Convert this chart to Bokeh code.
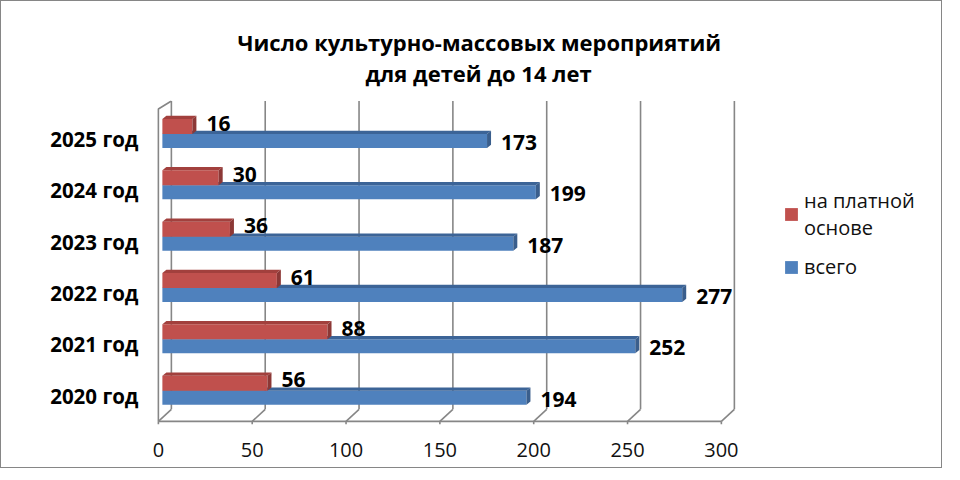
from bokeh.plotting import figure
from bokeh.models import Range1d, FixedTicker, Legend, LegendItem, ColumnDataSource, Title
from bokeh.embed import file_html
from bokeh.resources import INLINE
from bokeh.core.properties import value

# ---- data ----
years = ["2020 год", "2021 год", "2022 год", "2023 год", "2024 год", "2025 год"]
paid = [56, 88, 61, 36, 30, 16]
total = [194, 252, 277, 187, 199, 173]
x_ticks = [0, 50, 100, 150, 200, 250, 300]
series_names = ["на платной\nоснове", "всего"]
title_lines = ["Число культурно-массовых мероприятий", "для детей до 14 лет"]

# ---- layout ----
W, H = 942, 468
KX = 563 / 300.0          # px per unit
FL, FT, FH = 155, 99, 326
FW = W - FL - 8
X0 = -1
X1 = X0 + FW / KX
Y0, Y1 = -0.1, 6.25
kx = FW / (X1 - X0)
ky = FH / (Y1 - Y0)


def px(n):
    return n / kx


def py(n):
    return n / ky


FONT = "Open Sans"
GRID = "#868686"

p = figure(width=W, height=H, output_backend="svg", toolbar_location=None, title=None,
           x_range=Range1d(X0, X1), y_range=Range1d(Y0, Y1),
           min_border_left=FL, min_border_top=FT,
           min_border_right=W - FL - FW, min_border_bottom=H - FT - FH,
           background_fill_color="white", border_fill_color="white",
           styles={"border": "1px solid #868686"})
p.outline_line_color = None
p.xgrid.grid_line_color = None
p.ygrid.grid_line_color = None

t2 = Title(text=title_lines[1], align="left", offset=209, standoff=26,
           text_font=FONT, text_font_size="22px", text_font_style="bold", text_color="black")
t1 = Title(text=title_lines[0], align="left", offset=81, standoff=-28,
           text_font=FONT, text_font_size="22px", text_font_style="bold", text_color="black")
p.add_layout(t2, "above")
p.add_layout(t1, "above")

# x axis (front plane)
xa = p.xaxis[0]
xa.ticker = FixedTicker(ticks=x_ticks)
xa.axis_line_color = None
xa.major_tick_line_color = None
xa.minor_tick_line_color = None
xa.major_tick_out = 0
xa.major_label_standoff = 16
xa.major_label_text_font = FONT
xa.major_label_text_font_size = "20px"
xa.major_label_text_color = "#111111"

ya = p.yaxis[0]
cat_pos = [i + 0.5 for i in range(len(years))]
ya.ticker = FixedTicker(ticks=cat_pos)
ya.major_label_overrides = {c: y for c, y in zip(cat_pos, years)}
ya.axis_line_color = None
ya.major_tick_line_color = None
ya.minor_tick_line_color = None
ya.major_tick_out = 0
ya.major_label_standoff = 18
ya.major_label_text_font = FONT
ya.major_label_text_font_size = "20.5px"
ya.major_label_text_font_style = "bold"
ya.major_label_text_color = "black"

# ---- 3D walls ----
DX, DY = px(13), py(12)
grid_x = [v + DX for v in x_ticks]
p.segment(x0=grid_x, y0=[DY] * len(x_ticks), x1=grid_x, y1=[Y1 - py(0.5)] * len(x_ticks),
          line_color=GRID, line_width=1.6)
p.segment(x0=x_ticks, y0=[0] * len(x_ticks), x1=grid_x, y1=[DY] * len(x_ticks),
          line_color=GRID, line_width=1.6)
p.segment(x0=x_ticks, y0=[0] * len(x_ticks), x1=x_ticks, y1=[-py(3)] * len(x_ticks),
          line_color=GRID, line_width=1.6)
p.segment(x0=[0], y0=[0], x1=[x_ticks[-1]], y1=[0], line_color=GRID, line_width=1.6)
p.line(x=[0, 0, DX], y=[0, Y1 - py(8.5), Y1 - py(0.5)], line_color=GRID, line_width=1.6)

# ---- bars ----
BX = px(4)                  # bar plane shift right
BDX, BDY = px(4), py(3.3)   # bar depth


def bar_set(vals, lo_px, hi_px, front, top_c, side_c):
    left = [BX] * len(vals)
    right = [BX + v for v in vals]
    bottom = [c + py(lo_px) for c in cat_pos]
    top = [c + py(hi_px) for c in cat_pos]
    src = ColumnDataSource(dict(left=left, right=right, bottom=bottom, top=top))
    r = p.quad(left="left", right="right", bottom="bottom", top="top", source=src,
               fill_color=front, line_color=None)
    txs = [[l, rr, rr + BDX, l + BDX] for l, rr in zip(left, right)]
    tys = [[t, t, t + BDY, t + BDY] for t in top]
    p.patches(xs=txs, ys=tys, fill_color=top_c, line_color=None)
    sxs = [[rr, rr + BDX, rr + BDX, rr] for rr in right]
    sys_ = [[b, b + BDY, t + BDY, t] for b, t in zip(bottom, top)]
    p.patches(xs=sxs, ys=sys_, fill_color=side_c, line_color=None)
    return r, right, bottom, top


r_blue, b_right, b_bot, b_top = bar_set(total, -9, 5, "#4F81BD", "#3C6497", "#3A5E8C")
r_red, r_right, r_bot, r_top = bar_set(paid, 5, 20, "#C0504D", "#A2403D", "#8C3836")

lab_font = dict(text_font=value(FONT), text_font_size="21px", text_font_style="bold",
                text_color="black", text_baseline="middle", text_align="left")
p.text(x=r_right, y=[(b + t) / 2 for b, t in zip(r_bot, r_top)], text=[str(v) for v in paid],
       x_offset=14, y_offset=-3.5, **lab_font)
p.text(x=b_right, y=[(b + t) / 2 for b, t in zip(b_bot, b_top)], text=[str(v) for v in total],
       x_offset=14, y_offset=1.5, **lab_font)

legend = Legend(items=[LegendItem(label=series_names[0], renderers=[r_red]),
                       LegendItem(label=series_names[1], renderers=[r_blue])],
                location=(627, 146), padding=0, margin=0, spacing=12,
                border_line_color=None, background_fill_alpha=0,
                glyph_width=16, glyph_height=16, label_standoff=5,
                label_text_font=FONT, label_text_font_size="20px",
                label_text_line_height=1.45, label_text_color="#111111")
p.add_layout(legend)

open("out.html", "w").write(file_html(p, INLINE))
